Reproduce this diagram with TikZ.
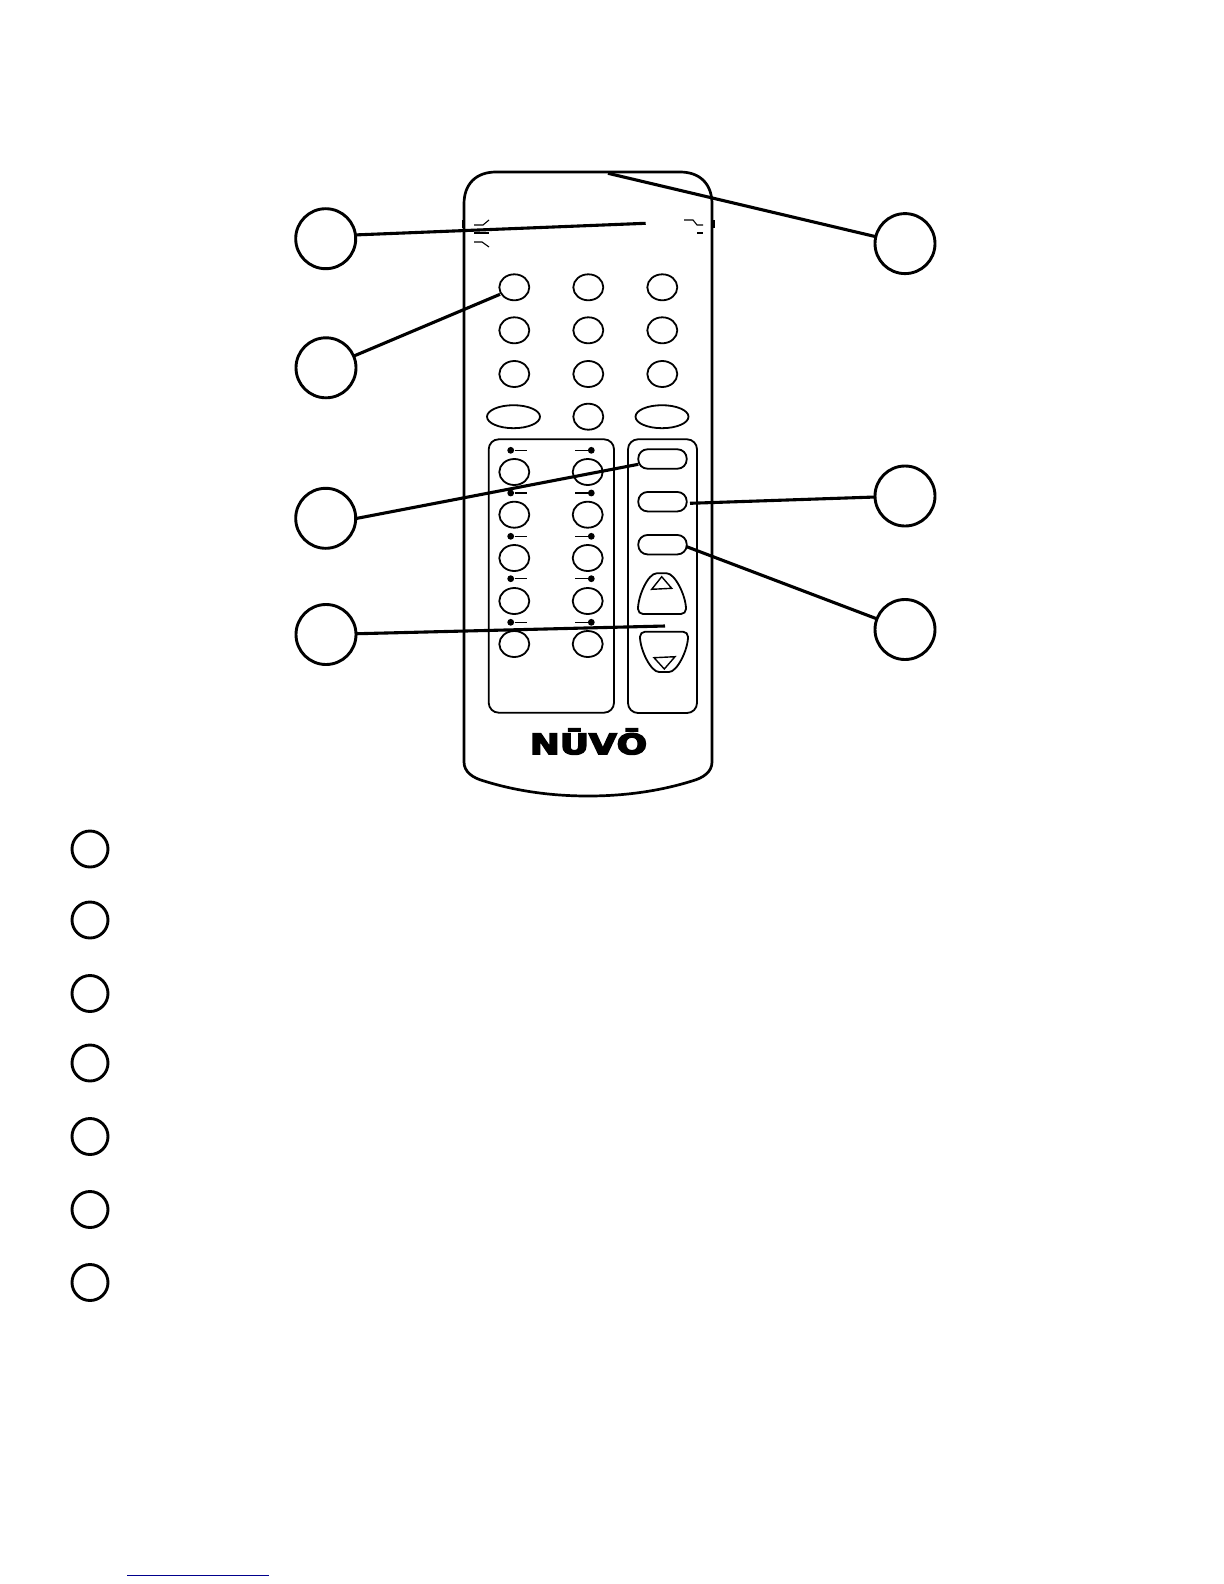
\documentclass[tikz,border=0pt]{standalone}
\usepackage{fontspec}
\usepackage{xcolor}
\usetikzlibrary{shapes.geometric}
\usetikzlibrary{positioning}
\newfontface\logofont{DejaVu Sans Bold}[FakeBold=5]
\definecolor{linknavy}{RGB}{0,0,140}

\begin{document}
\begin{tikzpicture}[
  x=0.5pt, y=-0.5pt,
  shell/.style={draw, line width=1.35pt},
  thin line/.style={draw, line width=0.55pt},
  lead/.style={draw, line width=1.55pt, shorten <=-0.5pt},
  btn/.style={draw, ellipse, line width=0.9pt, minimum width=15pt, minimum height=13pt, inner sep=0pt},
  oval/.style={draw, ellipse, line width=0.9pt, minimum width=26.5pt, minimum height=11.5pt, inner sep=0pt},
  pill/.style={draw, rectangle, rounded corners=4.6pt, line width=0.9pt, minimum width=24.2pt, minimum height=9.7pt, inner sep=0pt},
  dot/.style={circle, fill=black, minimum size=3.4pt, inner sep=0pt},
  big/.style={draw, circle, line width=1.45pt, minimum size=30pt, inner sep=0pt},
  small/.style={draw, circle, line width=1.45pt, minimum size=18pt, inner sep=0pt}
]
\useasboundingbox (0,0) rectangle (1224,1584);

%% Case
\draw[shell] (464,204) .. controls (464,184) and (476,172) .. (496,172) -- (680,172)
  .. controls (700,172) and (712,184) .. (712,204) -- (712,762)
  .. controls (712,772) and (703,778) .. (692,781)
  .. controls (660,791) and (625,796) .. (588,796)
  .. controls (551,796) and (516,791) .. (484,781)
  .. controls (473,778) and (464,772) .. (464,762) -- cycle;
\fill (461.5,220) rectangle (464,228);
\fill (712,220) rectangle (714.5,228);

%% Switch marks
\draw[thin line] (474,225)--(483,225)--(489,220);
\draw[thin line] (474,233)--(489,233);
\draw[thin line] (474,242)--(482,242)--(489,247);
\draw[thin line] (684,220)--(693,220)--(697,225)--(703,225);
\draw[thin line] (697,233)--(703,233);

%% Keypad
\node[btn] (k11) at (514.3,287.3) {};
\node[btn] (k12) at (588.3,287.3) {};
\node[btn] (k13) at (662.3,287.3) {};
\node[btn] (k21) at (514.3,330.3) {};
\node[btn] (k22) at (588.3,330.3) {};
\node[btn] (k23) at (662.3,330.3) {};
\node[btn] (k31) at (514.3,374) {};
\node[btn] (k32) at (588.3,374) {};
\node[btn] (k33) at (662.3,374) {};
\node[oval] (k41) at (513.5,416.7) {};
\node[btn] (k42) at (588.3,416.7) {};
\node[oval] (k43) at (662,416.7) {};

%% Panels
\draw[shell, line width=0.9pt, rounded corners=5pt] (488.7,439.3) rectangle (614,712.7);
\draw[shell, line width=0.9pt, rounded corners=5pt] (628,439.3) rectangle (697,713);

%% Source buttons
\node[btn] (s1l) at (514.3,472) {};
\node[btn] (s1r) at (587.7,472) {};
\node[btn] (s2l) at (514.3,514.7) {};
\node[btn] (s2r) at (587.7,514.7) {};
\node[btn] (s3l) at (514.3,558) {};
\node[btn] (s3r) at (587.7,558) {};
\node[btn] (s4l) at (514.3,601) {};
\node[btn] (s4r) at (587.7,601) {};
\node[btn] (s5l) at (514.3,644) {};
\node[btn] (s5r) at (587.7,644) {};

%% Indicators
\node[dot] (d1l) at (510.7,450.3) {};
\node[dot] (d1r) at (591.3,450.3) {};
\node[dot] (d2l) at (510.7,493) {};
\node[dot] (d2r) at (591.3,493) {};
\node[dot] (d3l) at (510.7,536.3) {};
\node[dot] (d3r) at (591.3,536.3) {};
\node[dot] (d4l) at (510.7,578.7) {};
\node[dot] (d4r) at (591.3,578.7) {};
\node[dot] (d5l) at (510.7,622.3) {};
\node[dot] (d5r) at (591.3,622.3) {};
\draw[thin line] (d1l)--++(16,0);
\draw[thin line] (d1r)--++(-16,0);
\draw[thin line] (d2l)--++(16,0);
\draw[thin line] (d2r)--++(-16,0);
\draw[thin line] (d3l)--++(16,0);
\draw[thin line] (d3r)--++(-16,0);
\draw[thin line] (d4l)--++(16,0);
\draw[thin line] (d4r)--++(-16,0);
\draw[thin line] (d5l)--++(16,0);
\draw[thin line] (d5r)--++(-16,0);

%% Right column
\node[pill] (p1) at (662.5,459) {};
\node[pill] (p2) at (662.5,501.7) {};
\node[pill] (p3) at (662.5,544.7) {};
\draw[line width=0.9pt, rounded corners=2.5pt] (638,614)
  .. controls (638,596) and (648,573.3) .. (661.7,573.3)
  .. controls (675,573.3) and (686,596) .. (686,614) -- cycle;
\draw[line width=0.7pt] (661.7,576.7)--(651.7,589.3)--(671.7,588.3)--cycle;
\draw[line width=0.9pt, rounded corners=2.5pt] (640,631.7)
  .. controls (640,650) and (651,672) .. (664,672)
  .. controls (677,672) and (688,650) .. (688,631.7) -- cycle;
\draw[line width=0.7pt] (654,657.7)--(675,656.7)--(664.3,669)--cycle;

%% Logo
\node[font=\logofont\fontsize{14}{15}\selectfont, inner sep=0pt, xscale=1.28, transform shape] (logo) at (588.5,741.5) {NŪVŌ};

%% Callouts
\node[big] (c1) at (325.7,238.7) {};
\node[big] (c2) at (326,367.8) {};
\node[big] (c3) at (325.7,518.3) {};
\node[big] (c4) at (326,634.5) {};
\node[big] (c5) at (905,243.6) {};
\node[big] (c6) at (905,496) {};
\node[big] (c7) at (905,629.5) {};
\coordinate (e1) at (645.7,223.3);
\coordinate (e2) at (500,294.3);
\coordinate (e3) at (638.3,464.3);
\coordinate (e4) at (665,626);
\coordinate (e5) at (608,173.3);
\coordinate (e6) at (690,503.3);
\coordinate (e7) at (686.7,546.7);
\draw[lead] (c1.7)--(e1);
\draw[lead] (c2)--(e2);
\draw[lead] (c3.east)--(e3);
\draw[lead] (c4)--(e4);
\draw[lead] (c5)--(e5);
\draw[lead] (c6)--(e6);
\draw[lead] (c7)--(e7);

%% Legend
\node[small] (l1) at (90,849) {};
\node[small] (l2) at (90,920) {};
\node[small] (l3) at (90,993.5) {};
\node[small] (l4) at (90,1063) {};
\node[small] (l5) at (90,1136.5) {};
\node[small] (l6) at (90,1209.5) {};
\node[small] (l7) at (90,1282.5) {};

%% Rule at foot of page
\coordinate (r1) at (127,1575.3);
\coordinate (r2) at (269,1575.3);
\draw[linknavy, line width=0.75pt] (r1)--(r2);

\end{tikzpicture}
\end{document}
